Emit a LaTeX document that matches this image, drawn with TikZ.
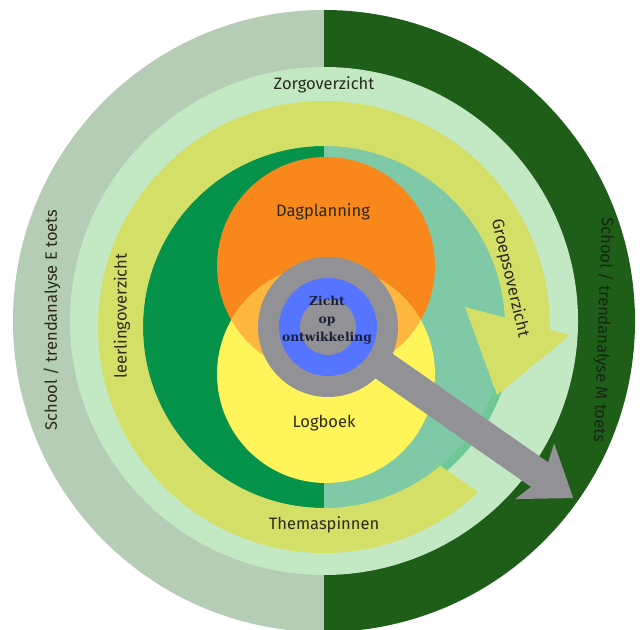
\documentclass[tikz,border=0pt]{standalone}
\usepackage{fontspec}
\setmainfont{Fira Sans}
\newfontfamily\slabfont{DejaVu Serif}
\definecolor{outerleft}{HTML}{B5CCB5}
\definecolor{outerright}{HTML}{1E5E18}
\definecolor{lightring}{HTML}{C3E8C4}
\definecolor{thinring}{HTML}{6DC895}
\definecolor{innerleft}{HTML}{05924A}
\definecolor{innerright}{HTML}{80C9A6}
\definecolor{bandyellow}{HTML}{D4DF68}
\definecolor{orangec}{HTML}{F8871C}
\definecolor{yellowc}{HTML}{FFF45A}
\definecolor{overlapc}{HTML}{FDB740}
\definecolor{grayc}{HTML}{929195}
\definecolor{bluec}{HTML}{5574FF}
\definecolor{labeltext}{HTML}{2B2A1E}
\definecolor{darktext}{HTML}{15280F}
\definecolor{zichttext}{HTML}{1C1F3A}
\begin{document}
\begin{tikzpicture}[x=1pt,y=1pt,
  lbl/.style={font=\fontsize{16.5}{18}\selectfont, text=labeltext, inner sep=0pt},
  zichtlbl/.style={font=\slabfont\bfseries\fontsize{12.3}{18}\selectfont, text=zichttext, align=center, inner sep=0pt}]
\useasboundingbox (0,0) rectangle (644,629);
\clip (0,0) rectangle (644,629);
\fill[white] (0,0) rectangle (644,629);
\coordinate (c0) at (324,308);
\coordinate (c1) at (324,302);
\coordinate (mag) at (328,302);
% outer ring halves
\fill[outerleft] (c0) ++(90:311) arc[start angle=90,end angle=270,radius=311] -- cycle;
\fill[outerright] (c0) ++(-90:311) arc[start angle=-90,end angle=90,radius=311] -- cycle;
% light ring
\fill[lightring] (c0) circle[radius=254];
% thin ring
\fill[thinring] (c1) circle[radius=189];
% inner disk halves
\fill[innerleft] (c1) ++(90:181) arc[start angle=90,end angle=270,radius=181] -- cycle;
\fill[innerright] (c1) ++(-90:181) arc[start angle=-90,end angle=90,radius=181] -- cycle;
% yellow circular arrow
\fill[bandyellow] ([shift={(-47:226)}]c1) arc[start angle=-47,end angle=-360.7,radius=226]
  -- (570,294) -- (497,234) -- (465,322)
  -- ([shift={(3:181)}]c1) arc[start angle=3,end angle=310,radius=181] -- cycle;
% orange and yellow circles
\fill[orangec] (326,363) circle[radius=109];
\fill[yellowc] (326,255) circle[radius=109];
\begin{scope}
  \clip (326,363) circle[radius=109];
  \fill[overlapc] (326,255) circle[radius=109];
\end{scope}
% magnifier handle
\begin{scope}[shift={(mag)}, rotate=-34.9]
  \fill[grayc] (0,-15) -- (258,-15) -- (252,-34) -- (299,0) -- (252,34) -- (258,15) -- (0,15) -- cycle;
\end{scope}
% magnifier lens
\fill[grayc] (mag) circle[radius=70];
\fill[bluec] (mag) circle[radius=49];
\fill[grayc] (mag) circle[radius=28];
% labels
\node[lbl] (zorg) at (324,544) {Zorgoverzicht};
\node[lbl] (dag) at (323,417) {Dagplanning};
\node[lbl] (log) at (324,206) {Logboek};
\node[lbl] (thema) at (324,104) {Themaspinnen};
\node[lbl, rotate=90] (leer) at (122,313) {leerlingoverzicht};
\node[lbl, rotate=90] (schoolE) at (52,309) {School / trendanalyse E toets};
\node[lbl, rotate=-92, text=darktext] (schoolM) at (603,299) {School / trendanalyse M toets};
\node[lbl, rotate=-77] (groep) at (510,351) {Groepsoverzicht};
\node[zichtlbl] (zicht) at (327,309) {Zicht\\op\\ontwikkeling};
\end{tikzpicture}
\end{document}
